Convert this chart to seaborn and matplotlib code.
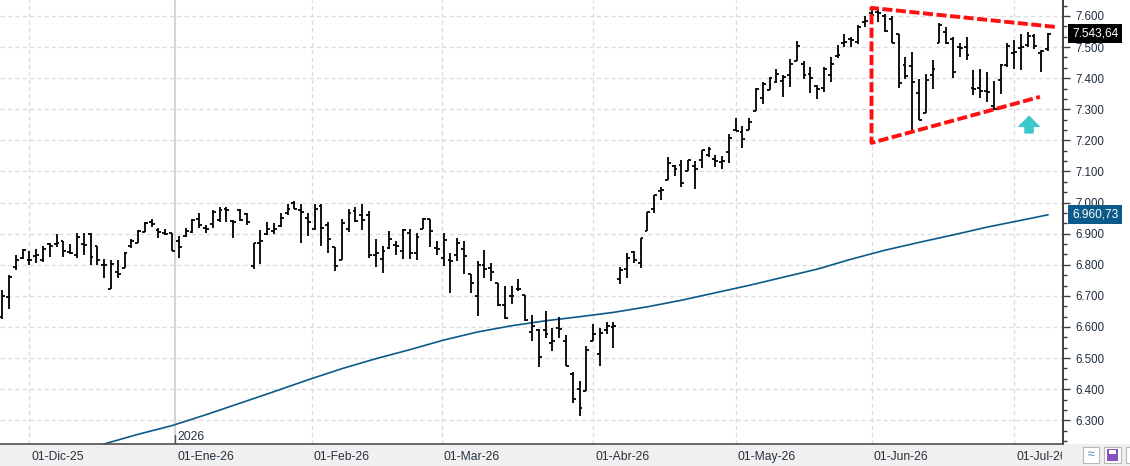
import matplotlib
matplotlib.use('Agg')
import numpy as np
import pandas as pd
import matplotlib.pyplot as plt
import matplotlib.transforms as mtransforms
from matplotlib.patches import Rectangle
from matplotlib.ticker import MultipleLocator, FuncFormatter
import seaborn as sns

# OHLC per trading session (24-Nov-25 .. 09-Jul-26)
opens = [6632, 6696, 6794, 6822,
         6814, 6828, 6815, 6866, 6866, 6876, 6840, 6830, 6868, 6900, 6862, 6800, 6722, 6776, 6790, 6862, 6870, 6905, 6938, 6912, 6901, 6903,
         6876, 6892, 6905, 6946, 6919, 6930, 6944, 6981, 6941, 6976, 6962, 6796, 6870, 6900, 6909, 6925, 6968, 6998, 6976, 6950,
         6916, 6989, 6927, 6858, 6815, 6916, 6973, 6960, 6959, 6833, 6819, 6855, 6865, 6844, 6901, 6837, 6916, 6948, 6855,
         6823, 6817, 6833, 6850, 6769, 6701, 6798, 6790, 6740, 6672, 6699, 6723, 6704, 6583, 6590, 6590, 6548, 6598, 6555, 6450, 6402, 6395,
         6555, 6512, 6589, 6599, 6755, 6785, 6841, 6807, 6908, 6978, 7037, 7072, 7119, 7122, 7101, 7117, 7138, 7154, 7140, 7131, 7162,
         7235, 7226, 7235, 7293, 7336, 7361, 7387, 7390, 7411, 7454, 7447, 7415, 7375, 7367, 7410, 7471, 7514, 7525, 7517, 7580,
         7610, 7612, 7600, 7590, 7542, 7442, 7439, 7351, 7287, 7410, 7514, 7550, 7525, 7500, 7500, 7367, 7370, 7360, 7310, 7394, 7442,
         7482, 7496, 7507, 7536, 7482, 7493]
highs = [6718, 6766, 6832, 6852,
         6843, 6852, 6862, 6869, 6898, 6876, 6866, 6901, 6903, 6901, 6862, 6819, 6814, 6817, 6841, 6882, 6912, 6939, 6946, 6919, 6914, 6903,
         6892, 6919, 6948, 6966, 6927, 6976, 6987, 6987, 6944, 6981, 6966, 6871, 6912, 6936, 6933, 6966, 6995, 7004, 6995, 6966,
         6995, 6995, 6936, 6858, 6946, 6981, 6987, 6995, 6973, 6882, 6862, 6909, 6876, 6916, 6916, 6901, 6952, 6948, 6876,
         6901, 6839, 6887, 6876, 6772, 6812, 6846, 6806, 6740, 6731, 6733, 6755, 6704, 6637, 6594, 6650, 6596, 6633, 6573, 6456, 6425, 6539,
         6609, 6598, 6617, 6617, 6794, 6837, 6844, 6887, 6969, 7026, 7051, 7147, 7122, 7138, 7138, 7133, 7170, 7179, 7154, 7149, 7222,
         7272, 7247, 7272, 7368, 7387, 7404, 7429, 7411, 7461, 7521, 7454, 7437, 7378, 7437, 7469, 7507, 7541, 7531, 7571, 7600,
         7628, 7621, 7606, 7600, 7542, 7467, 7485, 7396, 7413, 7458, 7579, 7566, 7531, 7512, 7533, 7426, 7428, 7421, 7392, 7445, 7512,
         7523, 7542, 7550, 7542, 7490, 7546]
lows = [6625, 6657, 6783, 6819,
        6798, 6807, 6809, 6825, 6858, 6826, 6836, 6823, 6830, 6798, 6798, 6758, 6721, 6758, 6790, 6855, 6869, 6905, 6923, 6887, 6895, 6844,
        6823, 6890, 6903, 6919, 6901, 6919, 6938, 6936, 6887, 6941, 6927, 6787, 6804, 6895, 6898, 6923, 6959, 6978, 6871, 6892,
        6912, 6860, 6839, 6780, 6815, 6905, 6938, 6912, 6823, 6794, 6774, 6850, 6833, 6819, 6819, 6817, 6916, 6858, 6833,
        6796, 6708, 6812, 6769, 6710, 6635, 6758, 6747, 6669, 6626, 6675, 6715, 6618, 6554, 6470, 6564, 6523, 6566, 6475, 6355, 6314, 6395,
        6555, 6473, 6577, 6534, 6737, 6758, 6807, 6791, 6908, 6967, 7008, 7072, 7085, 7051, 7101, 7045, 7112, 7147, 7115, 7108, 7126,
        7229, 7176, 7232, 7293, 7318, 7361, 7384, 7338, 7373, 7454, 7397, 7351, 7332, 7356, 7389, 7464, 7501, 7499, 7510, 7564,
        7600, 7582, 7550, 7514, 7367, 7396, 7233, 7265, 7287, 7364, 7514, 7510, 7402, 7467, 7460, 7346, 7335, 7324, 7299, 7349, 7437,
        7428, 7426, 7501, 7493, 7421, 7488]
closes = [6700, 6762, 6815, 6849,
          6816, 6832, 6852, 6862, 6870, 6844, 6838, 6888, 6864, 6826, 6815, 6798, 6804, 6770, 6837, 6876, 6909, 6933, 6932, 6905, 6898, 6844,
          6858, 6909, 6944, 6927, 6915, 6970, 6976, 6976, 6938, 6944, 6939, 6870, 6878, 6916, 6916, 6952, 6981, 6980, 6970, 6938,
          6978, 6919, 6884, 6796, 6933, 6966, 6941, 6944, 6833, 6837, 6844, 6882, 6862, 6912, 6839, 6890, 6946, 6909, 6852,
          6880, 6812, 6869, 6828, 6740, 6798, 6785, 6776, 6672, 6629, 6700, 6721, 6624, 6604, 6503, 6578, 6556, 6593, 6476, 6368, 6341, 6526,
          6577, 6582, 6603, 6603, 6783, 6823, 6817, 6887, 6969, 7024, 7042, 7128, 7108, 7063, 7136, 7108, 7168, 7173, 7134, 7133, 7208,
          7230, 7203, 7258, 7365, 7382, 7400, 7414, 7404, 7447, 7504, 7411, 7402, 7364, 7431, 7445, 7474, 7517, 7522, 7566, 7584,
          7603, 7610, 7553, 7514, 7383, 7407, 7389, 7267, 7394, 7431, 7571, 7514, 7421, 7498, 7474, 7364, 7360, 7356, 7302, 7442, 7503,
          7485, 7499, 7536, 7503, 7488, 7543.64]

# month starts on the session axis
month_labels = ['01-Dic-25', '01-Ene-26', '01-Feb-26', '01-Mar-26', '01-Abr-26', '01-May-26', '01-Jun-26', '01-Jul-26']
month_pos = [4, 25.5, 45.6, 64.7, 87, 108, 128, 149]
year_pos = 25.5
year_label = '2026'

# moving average (blue line)
ma_idx = [12, 15, 20, 25, 30, 35, 40, 45, 50, 55, 60, 65, 70, 75, 80, 85, 90, 95, 100,
          105, 110, 115, 120, 125, 130, 135, 140, 145, 150, 154]
ma_val = [6204, 6224, 6255, 6283, 6318, 6355, 6392, 6430, 6466, 6498, 6527, 6558, 6584, 6604, 6620,
          6633, 6647, 6665, 6686, 6710, 6734, 6760, 6786, 6818, 6847, 6872, 6896, 6921, 6943, 6960.73]

# drawn triangle pattern and arrow
tri_x = [155.0, 128, 128, 152.8]
tri_y = [7565, 7626, 7192, 7340]
arrow_x = 151.2
arrow_y = [7224, 7277]

W, H = 1130, 466
sns.set_style('white')
plt.rcParams['font.family'] = ['Liberation Sans', 'DejaVu Sans']

fig = plt.figure(figsize=(W / 100, H / 100), dpi=100)
fig.patch.set_facecolor('white')
ax = fig.add_axes([0, 22 / H, 1063 / W, 444 / H])
ax.set_facecolor('white')

idx = np.arange(len(closes))
df = pd.DataFrame({'i': idx, 'o': opens, 'h': highs, 'l': lows, 'c': closes})

# grid
ax.set_ylim(6223.8, 7651.4)
ax.set_xlim(-0.34, 156.2)
ax.yaxis.set_major_locator(MultipleLocator(100))
ax.yaxis.set_minor_locator(MultipleLocator(100 / 3))
ax.grid(axis='y', which='major', color='#dcdcdc', lw=1, linestyle=(0, (3, 2.3)))
ax.grid(axis='x', visible=False)
for p in month_pos:
    if p == year_pos:
        ax.axvline(p, color='#d0d0d0', lw=1.3, zorder=0.5)
    else:
        ax.axvline(p, color='#dcdcdc', lw=1, linestyle=(0, (3, 2.3)), zorder=0.5)

# OHLC bars
ax.vlines(df['i'], df['l'], df['h'], color='black', lw=1.3, zorder=3)
ax.hlines(df['o'], df['i'] - 0.42, df['i'], color='black', lw=1.3, zorder=3)
ax.hlines(df['c'], df['i'], df['i'] + 0.42, color='black', lw=1.3, zorder=3)

# moving average
sns.lineplot(x=ma_idx, y=ma_val, ax=ax, color='#0b5a8a', lw=1.2, zorder=2)

# triangle + arrow
ax.plot(tri_x, tri_y, color='#ff1010', lw=2.8, linestyle=(0, (2.6, 0.9)), zorder=4, clip_on=False)
ax.annotate('', xy=(arrow_x, arrow_y[1]), xytext=(arrow_x, arrow_y[0]),
            arrowprops=dict(arrowstyle='simple,head_width=1.1,head_length=0.55,tail_width=0.45',
                            color='#3cc8c8', mutation_scale=13, shrinkA=0, shrinkB=0), zorder=4)

# axes styling
for s in ['left', 'top']:
    ax.spines[s].set_visible(False)
ax.spines['bottom'].set_color('#505050')
ax.spines['bottom'].set_linewidth(1.2)
ax.spines['right'].set_color('#404040')
ax.spines['right'].set_linewidth(1.4)

ax.yaxis.tick_right()
ax.yaxis.set_major_formatter(FuncFormatter(lambda v, _: f'{v:,.0f}'.replace(',', '.')))
ax.tick_params(axis='y', which='major', length=5, width=1, color='#404040', pad=4,
               labelsize=8.3, labelcolor='#1e2d3d')
ax.tick_params(axis='y', which='minor', length=3, width=1, color='#404040')

ax.set_xticks(month_pos)
ax.set_xticklabels([])
ax.tick_params(axis='x', length=6, width=1, color='#505050', direction='out')
ax.axvline(year_pos, ymin=0, ymax=9 / 444, color='#505050', lw=1)
ax.set_xlabel('')
ax.set_ylabel('')

# month labels (clipped at the price scale)
clip = mtransforms.Bbox.from_extents(0, 0, 1062, H)
lab_tr = mtransforms.blended_transform_factory(ax.transData, fig.transFigure)
for p, lab in zip(month_pos, month_labels):
    t = fig.text(p, 9 / H, lab, transform=lab_tr + mtransforms.ScaledTranslation(2 / 100, 0, fig.dpi_scale_trans),
                 ha='left', va='center', fontsize=8.7, color='#26323e', clip_on=True)
    t.set_clip_box(clip)
fig.text(year_pos, 29 / H, year_label, transform=lab_tr + mtransforms.ScaledTranslation(2 / 100, 0, fig.dpi_scale_trans),
         ha='left', va='center', fontsize=8.7, color='#26323e')

# bottom band and buttons
fig.patches.append(Rectangle((0, 0), 1, 22 / H, transform=fig.transFigure, fc='#f0f0f0', ec='none', zorder=-1))
fig.patches.append(Rectangle((1083 / W, 3 / H), 16 / W, 16 / H, transform=fig.transFigure,
                             fc='white', ec='#b8b8b8', lw=0.8, zorder=1))
fig.text(1091 / W, 11 / H, '≈', ha='center', va='center', fontsize=9, color='#4a7ab8')
fig.patches.append(Rectangle((1104 / W, 3 / H), 17 / W, 16 / H, transform=fig.transFigure,
                             fc='white', ec='#b8b8b8', lw=0.8, zorder=1))
fig.patches.append(Rectangle((1107 / W, 5 / H), 11 / W, 12 / H, transform=fig.transFigure,
                             fc='#8a4fc0', ec='none', zorder=2))
fig.patches.append(Rectangle((1109 / W, 12 / H), 7 / W, 4 / H, transform=fig.transFigure,
                             fc='white', ec='none', zorder=3))
fig.patches.append(Rectangle((1126 / W, 3 / H), 10 / W, 16 / H, transform=fig.transFigure,
                             fc='white', ec='#b8b8b8', lw=0.8, zorder=1))

# last-value tags on the price scale
tag_tr = mtransforms.blended_transform_factory(fig.transFigure, ax.transData)
def fmt_es(v):
    return f'{v:,.2f}'.replace(',', ' ').replace('.', ',').replace(' ', '.')
fig.text(1072 / W, closes[-1], fmt_es(closes[-1]), transform=tag_tr, ha='left', va='center',
         fontsize=8.6, color='white', bbox=dict(boxstyle='square,pad=0.3', fc='black', ec='none'))
fig.text(1072 / W, ma_val[-1], fmt_es(ma_val[-1]), transform=tag_tr, ha='left', va='center',
         fontsize=8.6, color='white', bbox=dict(boxstyle='square,pad=0.3', fc='#0b5a8a', ec='none'))

fig.savefig('out.png', dpi=100)
